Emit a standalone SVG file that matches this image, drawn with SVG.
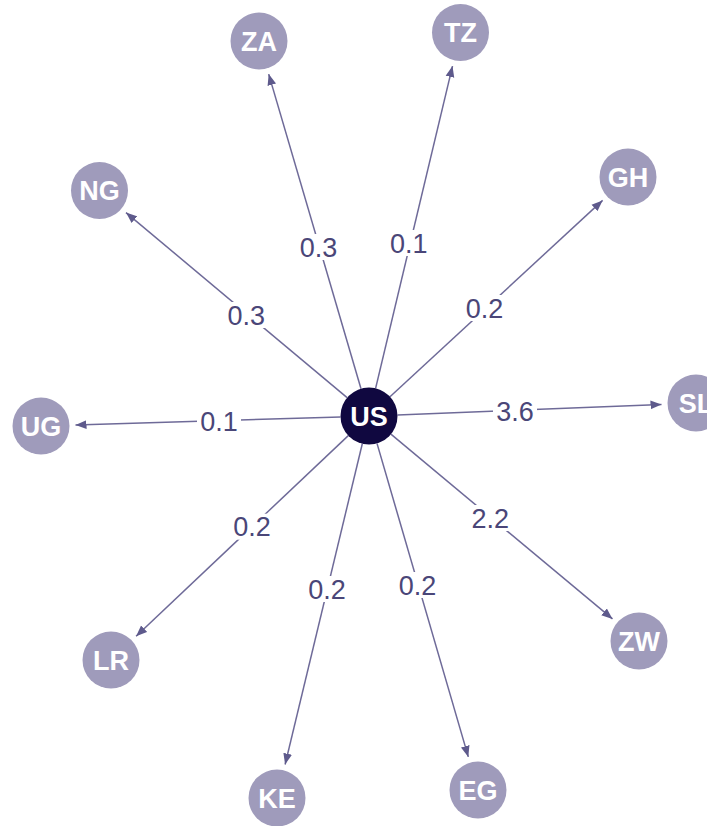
<svg xmlns="http://www.w3.org/2000/svg" width="707" height="826" viewBox="0 0 707 826">
<style>
.edge{stroke:#6e6a98;stroke-width:1.5;fill:none;marker-end:url(#arr)}
.lbg{fill:#ffffff}
.lbl{font-family:"Liberation Sans",Arial,sans-serif;font-size:27px;fill:#4a4678;text-anchor:middle}
.node{fill:#9f9bbb}
.hub{fill:#100840}
.nt{font-family:"Liberation Sans",Arial,sans-serif;font-size:27px;font-weight:bold;fill:#ffffff;text-anchor:middle}
</style>
<defs>
<marker id="arr" markerUnits="userSpaceOnUse" markerWidth="12" markerHeight="10" refX="11" refY="5" orient="auto">
<path d="M0,0.6 L11,5 L0,9.4 Z" fill="#5e5a8c"/>
</marker>
</defs>
<rect width="707" height="826" fill="#ffffff"/>
<g id="connectors">
<line class="edge" x1="361.0" y1="388.7" x2="268.7" y2="74.1"/>
<line class="edge" x1="375.6" y1="388.3" x2="452.5" y2="66.1"/>
<line class="edge" x1="347.1" y1="397.7" x2="126.0" y2="212.6"/>
<line class="edge" x1="390.0" y1="396.7" x2="602.6" y2="200.4"/>
<line class="edge" x1="397.5" y1="414.9" x2="661.5" y2="404.4"/>
<line class="edge" x1="340.5" y1="416.9" x2="75.5" y2="425.0"/>
<line class="edge" x1="390.9" y1="434.2" x2="612.5" y2="618.9"/>
<line class="edge" x1="348.3" y1="435.6" x2="136.1" y2="636.3"/>
<line class="edge" x1="362.3" y1="443.7" x2="285.1" y2="764.5"/>
<line class="edge" x1="377.0" y1="443.4" x2="468.3" y2="756.9"/>
<g id="edge-labels">
<rect class="lbg" x="296.5" y="234" width="44" height="26"/><text class="lbl" x="318.5" y="256.7">0.3</text>
<rect class="lbg" x="386.7" y="230" width="44" height="26"/><text class="lbl" x="408.7" y="252.7">0.1</text>
<rect class="lbg" x="224.3" y="302" width="44" height="26"/><text class="lbl" x="246.3" y="324.7">0.3</text>
<rect class="lbg" x="462.5" y="295" width="44" height="26"/><text class="lbl" x="484.5" y="317.7">0.2</text>
<rect class="lbg" x="493" y="398.7" width="44" height="26"/><text class="lbl" x="515" y="421.4">3.6</text>
<rect class="lbg" x="197" y="408.7" width="44" height="26"/><text class="lbl" x="219" y="431.4">0.1</text>
<rect class="lbg" x="468.3" y="505" width="44" height="26"/><text class="lbl" x="490.3" y="527.7">2.2</text>
<rect class="lbg" x="230" y="513.7" width="44" height="26"/><text class="lbl" x="252" y="536.4">0.2</text>
<rect class="lbg" x="305" y="576" width="44" height="26"/><text class="lbl" x="327" y="598.7">0.2</text>
<rect class="lbg" x="395.5" y="572" width="44" height="26"/><text class="lbl" x="417.5" y="594.7">0.2</text>
</g>
</g>
<g id="node-US"><circle class="hub" cx="369" cy="416" r="28.5"/><text class="nt" x="369" y="425.7">US</text></g>
<g id="node-ZA"><circle class="node" cx="259" cy="41" r="28.5"/><text class="nt" x="259" y="50.7">ZA</text></g>
<g id="node-TZ"><circle class="node" cx="460.5" cy="32.5" r="28.5"/><text class="nt" x="460.5" y="42.2">TZ</text></g>
<g id="node-NG"><circle class="node" cx="99.5" cy="190.5" r="28.5"/><text class="nt" x="99.5" y="200.2">NG</text></g>
<g id="node-GH"><circle class="node" cx="628" cy="177" r="28.5"/><text class="nt" x="628" y="186.7">GH</text></g>
<g id="node-SL"><circle class="node" cx="696" cy="403" r="28.5"/><text class="nt" x="696" y="412.7">SL</text></g>
<g id="node-UG"><circle class="node" cx="41" cy="426" r="28.5"/><text class="nt" x="41" y="435.7">UG</text></g>
<g id="node-ZW"><circle class="node" cx="639" cy="641" r="28.5"/><text class="nt" x="639" y="650.7">ZW</text></g>
<g id="node-LR"><circle class="node" cx="111" cy="660" r="28.5"/><text class="nt" x="111" y="669.7">LR</text></g>
<g id="node-KE"><circle class="node" cx="277" cy="798" r="28.5"/><text class="nt" x="277" y="807.7">KE</text></g>
<g id="node-EG"><circle class="node" cx="478" cy="790" r="28.5"/><text class="nt" x="478" y="799.7">EG</text></g>
</svg>
